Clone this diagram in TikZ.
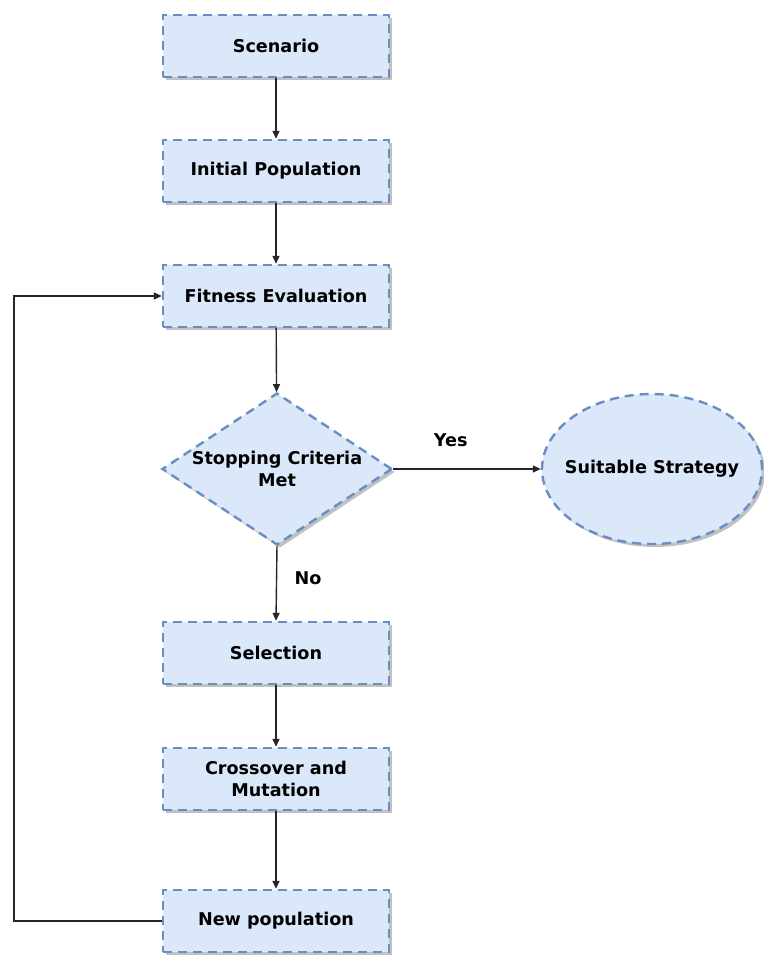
\documentclass[tikz,border=0pt]{standalone}
\usepackage{fontspec}
\setmainfont{DejaVu Sans}
\usetikzlibrary{shapes.geometric,arrows.meta,shadows}
\definecolor{boxfill}{RGB}{218,232,250}
\definecolor{boxedge}{RGB}{104,142,196}
\tikzset{
  x=1pt, y=-1pt,
  txt/.style={font=\bfseries\fontsize{17.6}{22}\selectfont},
  flowbase/.style={txt, fill=boxfill, draw=boxedge, line width=2.4pt,
    dash pattern=on 9pt off 6pt, align=center, inner sep=0pt,
    drop shadow={shadow xshift=3pt, shadow yshift=-3pt, fill=black!35, opacity=0.7}},
  stepbox/.style={flowbase, rectangle, minimum width=226pt, minimum height=62pt},
  decision/.style={flowbase, diamond, aspect=1.51, inner xsep=-20pt,
    minimum width=230pt, minimum height=152pt},
  terminal/.style={flowbase, ellipse, inner xsep=-25pt,
    minimum width=220pt, minimum height=150pt},
  link/.style={line width=1.4pt, draw=black!85, -{Triangle[length=8pt,width=7pt]}},
  lbl/.style={txt}
}
\begin{document}
\begin{tikzpicture}
\useasboundingbox (0,0) rectangle (763,955);
\node[stepbox] (scen) at (276,46) {Scenario};
\node[stepbox] (init) at (276,171) {Initial Population};
\node[stepbox] (fit) at (276,296) {Fitness Evaluation};
\node[decision] (stop) at (277,469) {Stopping Criteria\\Met};
\node[terminal] (suit) at (652,469) {Suitable Strategy};
\node[stepbox] (sel) at (276,653) {Selection};
\node[stepbox] (cross) at (276,779) {Crossover and\\Mutation};
\node[stepbox] (newp) at (276,921) {New population};
\coordinate (lb) at (14,921);
\coordinate (lt) at (14,296);

\draw[link] (scen) -- (init);
\draw[link] (init) -- (fit);
\draw[link] (fit) -- (stop);
\draw[link] (stop.east) -- node[lbl, above=18pt, pos=0.39] {Yes} (suit.west);
\draw[link] (stop.south) -- node[lbl, right=14pt, pos=0.43] {No} (sel.north);
\draw[link] (sel) -- (cross);
\draw[link] (cross) -- (newp);
\draw[link] (newp.west) -- (lb) -- (lt) -- (fit.west);
\end{tikzpicture}
\end{document}
